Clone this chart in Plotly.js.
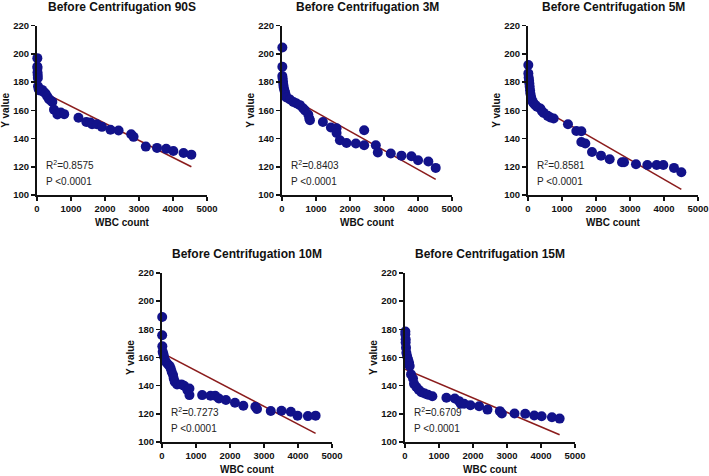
<!DOCTYPE html>
<html>
<head>
<meta charset="utf-8">
<script src="https://cdn.plot.ly/plotly-3.0.1.min.js"></script>
<style>html,body{margin:0;padding:0;background:#fff;}#chart{width:709px;height:476px;}</style>
</head>
<body>
<div id="chart"></div>
<script>
// ---------- DATA ----------
const panelTitles = ["Before Centrifugation 90S", "Before Centrifugation 3M", "Before Centrifugation 5M", "Before Centrifugation 10M", "Before Centrifugation 15M"];
const r2Labels = ["0.8575", "0.8403", "0.8581", "0.7273", "0.6709"];
const pLabel = "P <0.0001";
const xTitle = "WBC count";
const yTitle = "Y value";

const x90S = [10,10,15,15,20,25,30,50,100,150,200,250,300,350,400,450,500,600,700,800,1220,1450,1570,1620,1760,1910,2160,2400,2770,2840,3200,3530,3800,4010,4310,4540];
const y90S = [197,191,190,187,185,183,177,175,174,174.5,173,172,170,168,167,166,160.5,157,158.5,157.3,154.7,151.8,151.4,150.2,150.2,148.3,146.2,145.7,143,141.2,134.3,133.4,132.7,131.2,129.8,128.6];

const x3M = [10,10,10,20,30,40,50,70,90,110,130,235,333,430,528,620,675,773,802,822,1203,1438,1605,1605,1703,1898,2172,2417,2417,2759,2818,3199,3513,3806,4002,4305,4521];
const y3M = [204.6,190.9,184.3,182.6,180.2,177.9,176.2,174.3,172.7,170.8,169.1,167.7,166,164.9,163.7,161.5,160,157,154.2,153,151.8,147.8,147.3,144,138.8,136.9,136.5,145.9,135.3,135.3,130.1,129.4,127.9,127.5,124.6,123.7,119.2];

const x5M = [10,10,20,30,40,50,60,70,90,110,140,170,216,265,363,412,461,578,657,755,1176,1422,1569,1569,1686,1882,2147,2402,2765,2824,3176,3510,3784,3980,4294,4510];
const y5M = [192.1,186.2,183.3,181.4,179.1,176.7,174.3,172,169.6,167.7,166,164.9,163.7,162.5,161.3,159.4,158.2,156.1,154.9,154.2,150.2,145.4,145.2,137.6,136.5,130.5,127.9,125.3,123.2,123.2,121.8,121.3,121.3,121.3,119.2,116.1];

const x10M = [5,5,10,20,40,60,90,130,180,226,256,285,325,344,374,443,571,650,748,807,807,1181,1427,1565,1673,1880,2146,2392,2746,2795,3199,3514,3789,3986,4291,4518];
const y10M = [188.8,175.8,168,164,162.4,160.5,158.1,156.5,155,153.9,152.2,149.8,147.5,145.1,142.8,140.9,140.9,139.9,136.8,138,133.3,133.3,132.8,132.8,130.9,129.8,127.9,125.7,125,123.4,122,122.2,121.5,118.7,118.4,118.7];

const x15M = [10,10,20,20,30,40,60,90,120,138,177,236,265,334,403,481,580,678,805,1218,1464,1591,1640,1739,1925,2180,2426,2790,2849,3222,3536,3802,4018,4322,4548];
const y15M = [178.4,176.5,172.9,170.6,167,163.4,161,158.7,156.3,153.9,148,145.1,141.3,139,137.1,135.4,134.4,133.5,132.5,131.4,130.9,129,127.1,127.1,126.1,125.4,123,121.9,120.2,120.2,120,118.8,118.3,117.6,116.6];

// linear fit lines (start / end of each fitted line)
const fitX = [[0,4540],[0,4521],[0,4510],[0,4518],[0,4548]];
const fitY = [[175,120],[172.2,111.1],[166.7,104],[163.3,106.1],[151.7,105.2]];

const xTicks = [0,1000,2000,3000,4000,5000];
const yTicks = [100,120,140,160,180,200,220];

// ---------- LAYOUT (pixel boxes of each plot area) ----------
const W = 709, H = 476;
const boxes = [
  {l:37,  r:207, t:25.7, b:195},
  {l:282, r:452, t:25.7, b:195},
  {l:528, r:698, t:25.7, b:195},
  {l:162, r:332, t:273,  b:442},
  {l:405, r:575, t:273,  b:442}
];
const xs = [x90S, x3M, x5M, x10M, x15M];
const ys = [y90S, y3M, y5M, y10M, y15M];
const font = "Liberation Sans, Arial, sans-serif";
const dotColor = "#12128a";
const lineColor = "#8b1c1c";

const data = [];
const layout = {
  width: W, height: H,
  margin: {l:0, r:0, t:0, b:0},
  paper_bgcolor: "#fff", plot_bgcolor: "#fff",
  showlegend: false,
  font: {family: font, color: "#111", size: 10},
  annotations: []
};

boxes.forEach((bx, i) => {
  const n = i === 0 ? "" : String(i + 1);
  const xa = "x" + n, ya = "y" + n;
  data.push({
    x: fitX[i], y: fitY[i], xaxis: xa, yaxis: ya,
    type: "scatter", mode: "lines",
    line: {color: lineColor, width: 1.6},
    hoverinfo: "skip", cliponaxis: false
  });
  data.push({
    x: xs[i], y: ys[i], xaxis: xa, yaxis: ya,
    type: "scatter", mode: "markers",
    marker: {color: dotColor, size: 10},
    cliponaxis: false
  });
  const axBase = {
    showgrid: false, zeroline: false, showline: true,
    linecolor: "#111", linewidth: 2,
    ticks: "outside", ticklen: 4, tickwidth: 1.5, tickcolor: "#111",
    tickfont: {family: font, size: 9.5, color: "#111", weight: "bold"},
    fixedrange: true, automargin: false
  };
  layout["xaxis" + n] = Object.assign({}, axBase, {
    domain: [bx.l / W, bx.r / W],
    anchor: ya, range: [0, 5000],
    tickvals: xTicks, ticktext: xTicks.map(String),
    title: {text: xTitle, font: {family: font, size: 10, color: "#111", weight: "bold"}, standoff: 6}
  });
  layout["yaxis" + n] = Object.assign({}, axBase, {
    domain: [1 - bx.b / H, 1 - bx.t / H],
    anchor: xa, range: [100, 220],
    tickvals: yTicks, ticktext: yTicks.map(String),
    title: {text: yTitle, font: {family: font, size: 10, color: "#111", weight: "bold"}, standoff: 2}
  });
  layout.annotations.push({
    xref: "paper", yref: "paper",
    x: (bx.l + bx.r) / 2 / W, y: 1 - (bx.t - 19) / H,
    xanchor: "center", yanchor: "middle", showarrow: false,
    text: "<b>" + panelTitles[i] + "</b>",
    font: {family: font, size: 12, color: "#111"}
  });
  layout.annotations.push({
    xref: xa, yref: ya, x: 200, y: 121, xanchor: "left", yanchor: "middle",
    showarrow: false, text: "R<sup>2</sup>=" + r2Labels[i],
    font: {family: font, size: 10, color: "#222"}
  });
  layout.annotations.push({
    xref: xa, yref: ya, x: 220, y: 109.8, xanchor: "left", yanchor: "middle",
    showarrow: false, text: pLabel,
    font: {family: font, size: 10, color: "#222"}
  });
});

Plotly.newPlot("chart", data, layout, {staticPlot: true, displayModeBar: false});
</script>
</body>
</html>
